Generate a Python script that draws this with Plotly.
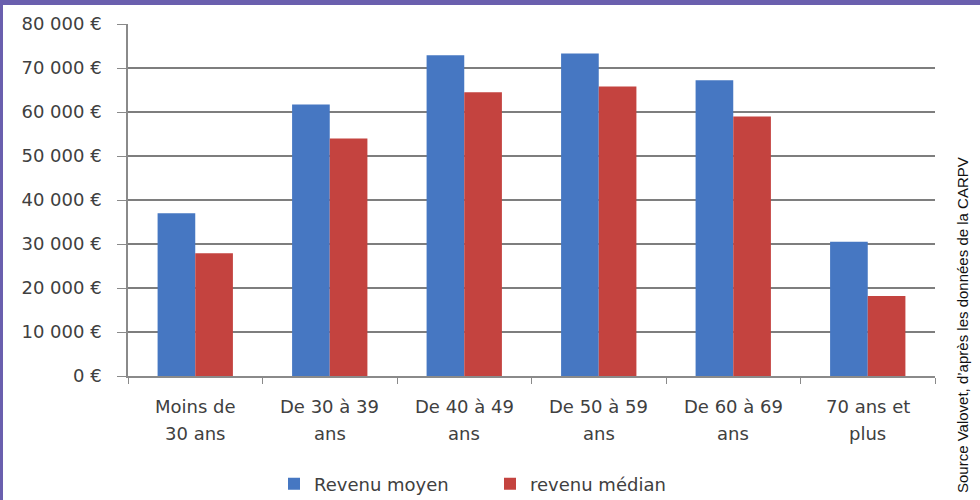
import plotly.graph_objects as go

categories = ["Moins de 30 ans", "De 30 à 39 ans", "De 40 à 49 ans",
              "De 50 à 59 ans", "De 60 à 69 ans", "70 ans et plus"]
label_line1 = ["Moins de", "De 30 à 39", "De 40 à 49", "De 50 à 59", "De 60 à 69", "70 ans et"]
label_line2 = ["30 ans", "ans", "ans", "ans", "ans", "plus"]
revenu_moyen = [37000, 61700, 72900, 73300, 67200, 30500]
revenu_median = [27900, 54000, 64500, 65800, 59000, 18200]
y_ticks = [0, 10000, 20000, 30000, 40000, 50000, 60000, 70000, 80000]
y_tick_text = ["0 €", "10 000 €", "20 000 €", "30 000 €", "40 000 €",
               "50 000 €", "60 000 €", "70 000 €", "80 000 €"]
source_text = "Source Valovet, d’après les données de la CARPV"

FONT = "DejaVu Sans"
FS = 18
TXT = "#404040"

fig = go.Figure()
fig.add_trace(go.Bar(x=categories, y=revenu_moyen, name="Revenu moyen",
                     marker=dict(color="#4677c2", line=dict(width=0))))
fig.add_trace(go.Bar(x=categories, y=revenu_median, name="revenu médian",
                     marker=dict(color="#c4433f", line=dict(width=0))))

L, R, T, B = 128, 45, 24, 124
W, H = 980, 500
pw, ph = W - L - R, H - T - B

def px_x(p):
    return (p - L) / pw

def px_y(p):
    return (H - B - p) / ph

fig.update_layout(
    width=W, height=H,
    margin=dict(l=L, r=R, t=T, b=B, pad=0, autoexpand=False),
    paper_bgcolor="white", plot_bgcolor="white",
    barmode="group", bargap=0.44, bargroupgap=0,
    font=dict(family=FONT, size=FS, color=TXT),
    showlegend=True,
    legend=dict(orientation="h", x=px_x(490), xanchor="center",
                y=px_y(484), yanchor="middle",
                font=dict(family=FONT, size=FS, color=TXT),
                itemwidth=30, entrywidth=171, entrywidthmode="pixels",
                tracegroupgap=0, bgcolor="rgba(0,0,0,0)"),
    xaxis=dict(showticklabels=False, showline=True, linecolor="#8a8a8a", linewidth=1.5,
               ticks="outside", tickson="boundaries", ticklen=6, tickcolor="#8a8a8a",
               showgrid=False, zeroline=False, automargin=False),
    yaxis=dict(range=[0, 80000], tickvals=y_ticks, ticktext=y_tick_text,
               showline=True, linecolor="#8a8a8a", linewidth=1.5,
               ticks="outside", ticklen=9, tickcolor="#8a8a8a",
               gridcolor="#7e7e7e", gridwidth=1.5, zeroline=False,
               ticklabelstandoff=12, automargin=False,
               tickfont=dict(family=FONT, size=FS, color=TXT)),
)

annotations = []
for cat, l1, l2 in zip(categories, label_line1, label_line2):
    annotations.append(dict(x=cat, y=px_y(406), xref="x", yref="paper", text=l1,
                            showarrow=False, xanchor="center", yanchor="middle",
                            font=dict(family=FONT, size=FS, color=TXT)))
    annotations.append(dict(x=cat, y=px_y(433), xref="x", yref="paper", text=l2,
                            showarrow=False, xanchor="center", yanchor="middle",
                            font=dict(family=FONT, size=FS, color=TXT)))
annotations.append(dict(x=px_x(962), y=px_y(325), xref="paper", yref="paper",
                        text=source_text, textangle=-90, showarrow=False,
                        xanchor="center", yanchor="middle",
                        font=dict(family="Liberation Sans", size=15, color="#111111")))
fig.update_layout(annotations=annotations)

purple = "#6a5fae"
fig.update_layout(shapes=[
    dict(type="rect", xref="paper", yref="paper", x0=px_x(0), x1=px_x(W),
         y0=px_y(5), y1=px_y(0), fillcolor=purple, line=dict(width=0), layer="above"),
    dict(type="rect", xref="paper", yref="paper", x0=px_x(0), x1=px_x(3),
         y0=px_y(H), y1=px_y(0), fillcolor=purple, line=dict(width=0), layer="above"),
])

fig.write_html("out.html", config={"displayModeBar": False},
               post_script="document.body.style.margin='0';document.body.style.overflow='hidden';")
